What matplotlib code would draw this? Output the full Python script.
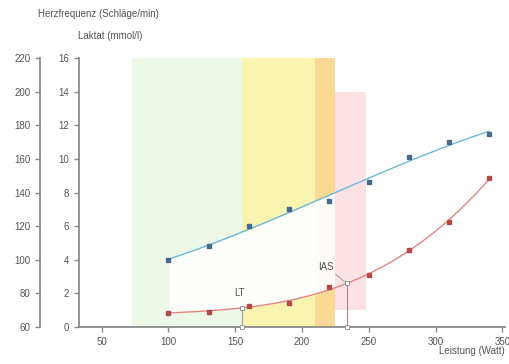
import numpy as np
import matplotlib

matplotlib.use("Agg")
import matplotlib.pyplot as plt

plt.rcParams["font.family"] = ["Liberation Sans", "DejaVu Sans"]

# data
watt = [100, 130, 160, 190, 220, 250, 280, 310, 340]
hr = [100, 108, 120, 130, 135, 146, 161, 170, 175]
lactate = [0.86, 0.92, 1.23, 1.43, 2.38, 3.12, 4.59, 6.25, 8.84]

# training zones (watt from, watt to, lactate bottom, lactate top, colour)
zone_from = [73, 155, 210, 225]
zone_to = [155, 210, 225, 248]
zone_bottom = [0, 0, 0, 1]
zone_top = [16, 16, 16, 14]
zone_colors = ["#eef8e8", "#f9f4b0", "#f9d994", "#fcdce1"]

lt_watt, ias_watt = 155, 233.5
x_ticks = [50, 100, 150, 200, 250, 300, 350]
lac_ticks = [0, 2, 4, 6, 8, 10, 12, 14, 16]
hr_ticks = [60, 80, 100, 120, 140, 160, 180, 200, 220]

GRAY = "#8a8a8a"
TXT = "#555555"
BLUE_LINE = "#6bb8d8"
BLUE_DOT = "#46698c"
RED_LINE = "#e48583"
RED_DOT = "#b04a46"

fig = plt.figure(figsize=(5.09, 3.64), dpi=100)
ax = fig.add_axes([0.1552, 0.1016, 0.837, 0.739])

xs = np.linspace(watt[0], watt[-1], 200)
hr_fit = np.poly1d(np.polyfit(watt, hr, 3))
lac_fit = np.poly1d(np.polyfit(watt, lactate, 3))
hr_curve = (hr_fit(xs) - 60) / 10.0  # heart rate in lactate units
lac_curve = lac_fit(xs)

# zones
for x0, x1, b, t, c in zip(zone_from[:3], zone_to[:3], zone_bottom[:3], zone_top[:3], zone_colors[:3]):
    ax.add_patch(plt.Rectangle((x0, b), x1 - x0, t - b, facecolor=c, edgecolor="none", zorder=1))
# white gap between the two curves
ax.fill_between(xs, lac_curve, hr_curve, color="white", alpha=0.95, lw=0, zorder=2)
ax.add_patch(plt.Rectangle((zone_from[3], zone_bottom[3]), zone_to[3] - zone_from[3],
                           zone_top[3] - zone_bottom[3], facecolor=zone_colors[3],
                           edgecolor="none", alpha=0.85, zorder=3))

# curves and measured points
ax.plot(xs, hr_curve, color=BLUE_LINE, lw=1.0, zorder=4)
ax.plot(watt, (np.array(hr) - 60) / 10.0, "s", ms=2.4, color=BLUE_DOT, zorder=5)
ax.plot(xs, lac_curve, color=RED_LINE, lw=1.0, zorder=4)
ax.plot(watt, lactate, "s", ms=2.4, color=RED_DOT, zorder=5)

# thresholds
lt_lac = lac_fit(lt_watt)
ias_lac = lac_fit(ias_watt)
ax.plot([lt_watt, lt_watt], [0, lt_lac], color="#a0a0a0", lw=0.8, zorder=6)
ax.plot([ias_watt, ias_watt], [0, ias_lac], color="#b07a9a", lw=0.8, zorder=6)
for xv, yv in [(lt_watt, lt_lac), (ias_watt, ias_lac), (lt_watt, 0), (ias_watt, 0)]:
    ax.plot(xv, yv, "s", ms=3.2, mfc="white", mec="#999999", mew=0.7, zorder=7, clip_on=False)
ax.text(lt_watt - 2, lt_lac + 0.6, "LT", fontsize=7, color=TXT, ha="center", va="bottom", zorder=8)
ax.annotate("IAS", xy=(ias_watt, ias_lac), xytext=(218, 3.3), fontsize=7, color=TXT,
            ha="center", va="bottom", zorder=8,
            arrowprops=dict(arrowstyle="-", color="#999999", lw=0.7, shrinkA=0, shrinkB=2))

ax.set_xlim(33, 352)
ax.set_ylim(0, 16)
ax.set_xticks(x_ticks)
ax.set_yticks(lac_ticks)
for s in ["top", "right"]:
    ax.spines[s].set_visible(False)
for s in ["left", "bottom"]:
    ax.spines[s].set_color(GRAY)
    ax.spines[s].set_linewidth(1.3)
ax.tick_params(colors=GRAY, labelcolor=TXT, labelsize=7, length=3.5, width=1)

# heart-rate axis further left (outward is in points: 39 px at 100 dpi)
ax2 = ax.twinx()
ax2.set_ylim(60, 220)
ax2.set_yticks(hr_ticks)
ax2.yaxis.set_ticks_position("left")
ax2.spines["left"].set_position(("outward", 28))
for s in ["top", "right", "bottom"]:
    ax2.spines[s].set_visible(False)
ax2.spines["left"].set_color(GRAY)
ax2.spines["left"].set_linewidth(1.3)
ax2.tick_params(colors=GRAY, labelcolor=TXT, labelsize=7, length=3.5, width=1)
ax2.patch.set_visible(False)

fig.text(38 / 509, 1 - 14 / 364, "Herzfrequenz (Schläge/min)", fontsize=7, color=TXT, va="center")
fig.text(78 / 509, 1 - 36 / 364, "Laktat (mmol/l)", fontsize=7, color=TXT, va="center")
fig.text(505 / 509, 1 - 351 / 364, "Leistung (Watt)", fontsize=7, color=TXT, ha="right", va="center")

fig.savefig("out.png", dpi=100, facecolor="white")
